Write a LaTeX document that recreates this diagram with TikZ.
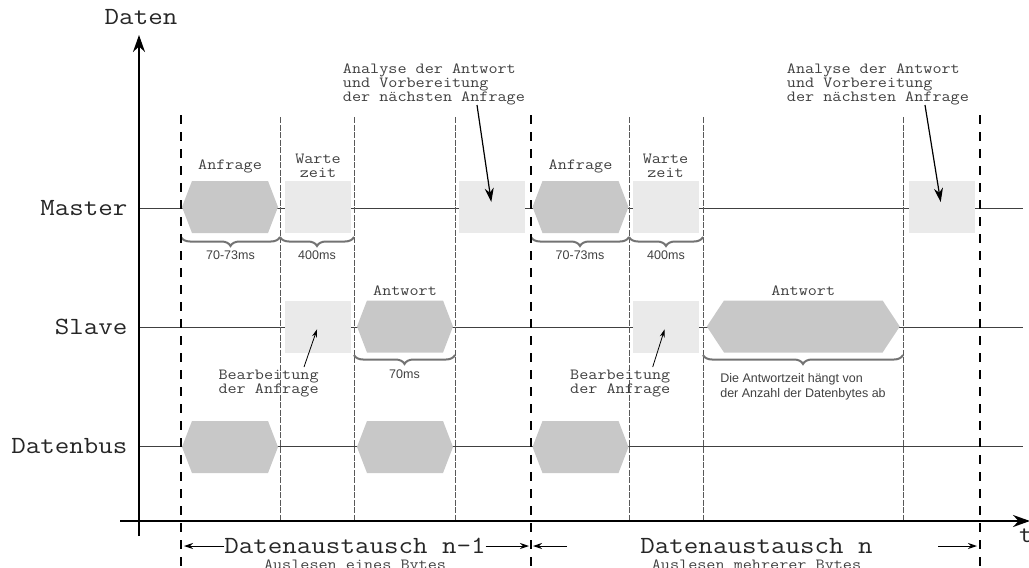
\documentclass[tikz,border=0pt]{standalone}
\usepackage{fontspec}
\setmonofont[FakeStretch=1.14]{Latin Modern Mono}
\newfontfamily\arial{Liberation Sans}
\usetikzlibrary{shapes.symbols,arrows.meta,positioning,decorations.pathreplacing}
\definecolor{sigdunkel}{RGB}{200,200,200}
\definecolor{sighell}{RGB}{234,234,234}

\begin{document}
\begin{tikzpicture}[x=1pt, y=-1pt,
    zackenform/.style={signal, signal to=east and west, signal pointer angle=138, fill=sigdunkel, inner sep=0pt, minimum width=96pt, minimum height=52pt},
    kasten/.style={rectangle, fill=sighell, inner sep=0pt, minimum width=66pt, minimum height=52pt},
    zeile/.style={font=\ttfamily\fontsize{24.7}{26}\selectfont, text=black!85, inner sep=0pt},
    notiz/.style={font=\ttfamily\fontsize{15.5}{13}\selectfont, text=black!75, inner sep=0pt, align=left},
    zeit/.style={font=\arial\fontsize{12.5}{15.4}\selectfont, text=black!75, inner sep=0pt, align=left},
    signallinie/.style={draw=black!75, line width=1pt},
    trenner/.style={draw=black!65, line width=0.8pt, dash pattern=on 6pt off 1.5pt},
    zyklus/.style={draw=black, line width=2.8pt, dash pattern=on 9pt off 8pt},
    klammer/.style={draw=black!55, line width=2pt, decorate, decoration={brace, mirror, amplitude=9pt}},
    achse/.style={draw=black, line width=2pt, -{Stealth[length=17pt, width=12pt]}},
    hinweis/.style={draw=black, line width=1.2pt, -{Stealth[length=14pt, width=9pt]}},
    zeiger/.style={draw=black, line width=0.8pt, -{Stealth[length=8pt, width=5pt]}},
    pfeil/.style={draw=black, line width=1pt, -{Stealth[length=9pt, width=6pt]}}
]
\useasboundingbox (0,0) rectangle (1029,568);

% Zeitmarken auf der t-Achse
\coordinate (t0) at (181,521);
\coordinate (t1) at (280,521);
\coordinate (t2) at (354,521);
\coordinate (t3) at (455,521);
\coordinate (t4) at (531,521);
\coordinate (t5) at (629,521);
\coordinate (t6) at (703,521);
\coordinate (t7) at (903,521);
\coordinate (t8) at (980,521);

% Zeilen
\node[zeile, anchor=east] (master) at (127.5,208) {Master};
\node[zeile, anchor=east] (slave) at (127.5,327) {Slave};
\node[zeile, anchor=east] (bus) at (127.5,446) {Datenbus};

\coordinate (mA) at (139,208);
\coordinate (mE) at (1023,208);
\coordinate (sA) at (139,327);
\coordinate (sE) at (1023,327);
\coordinate (bA) at (139,446);
\coordinate (bE) at (1023,446);
\draw[signallinie] (mA) -- (mE);
\draw[signallinie] (sA) -- (sE);
\draw[signallinie] (bA) -- (bE);

\draw[trenner] (t1 |- 0,117) -- (t1);
\draw[trenner] (t2 |- 0,117) -- (t2);
\draw[trenner] (t3 |- 0,117) -- (t3);
\draw[trenner] (t5 |- 0,117) -- (t5);
\draw[trenner] (t6 |- 0,117) -- (t6);
\draw[trenner] (t7 |- 0,117) -- (t7);

% Master
\node[zackenform] (anf1) at (230,207) {};
\node[kasten] (wart1) at (318,207) {};
\node[kasten] (ana1) at (492,207) {};
\node[zackenform] (anf2) at (580.5,207) {};
\node[kasten] (wart2) at (665.5,207) {};
\node[kasten] (ana2) at (941.5,207) {};
\node[notiz, above=8pt of anf1] (anf1txt) {Anfrage};
\node[notiz, above=3pt of wart1, align=center, font=\ttfamily\fontsize{15.5}{14}\selectfont] (wart1txt) {Warte\\zeit};
\node[notiz, above=8pt of anf2] (anf2txt) {Anfrage};
\node[notiz, above=3pt of wart2, align=center, font=\ttfamily\fontsize{15.5}{14}\selectfont] (wart2txt) {Warte\\zeit};

% Slave
\node[kasten] (bea1) at (318,326.5) {};
\node[zackenform] (ant1) at (405,326.5) {};
\node[kasten] (bea2) at (665.5,326.5) {};
\node[zackenform, minimum width=193pt, signal pointer angle=113] (ant2) at (803.3,326.5) {};
\node[notiz, above=5pt of ant1] (ant1txt) {Antwort};
\node[notiz, above=5pt of ant2] (ant2txt) {Antwort};

% Datenbus
\node[zackenform] (bus1) at (230,447) {};
\node[zackenform] (bus2) at (405,447) {};
\node[zackenform] (bus3) at (580.5,447) {};

% Zeiten
\draw[klammer] (t0 |- 0,237) -- node[zeit, below=12.5pt] (z1) {70-73ms} (t1 |- 0,237);
\draw[klammer] (t1 |- 0,237) -- node[zeit, below=12.5pt] (z2) {400ms} (t2 |- 0,237);
\draw[klammer] (t4 |- 0,237) -- node[zeit, below=12.5pt] (z3) {70-73ms} (t5 |- 0,237);
\draw[klammer] (t5 |- 0,237) -- node[zeit, below=12.5pt] (z4) {400ms} (t6 |- 0,237);
\draw[klammer] (t2 |- 0,355) -- node[zeit, below=13.5pt] (z5) {70ms} (t3 |- 0,355);
\draw[klammer] (t6 |- 0,355) -- node[zeit, below=17pt] (z6) {Die Antwortzeit hängt von\\der Anzahl der Datenbytes ab} (t7 |- 0,355);

% Hinweise
\node[notiz, anchor=north west] (bea1txt) at (218.3,369.5) {Bearbeitung\\der Anfrage};
\node[notiz, anchor=north west] (bea2txt) at (570,369.5) {Bearbeitung\\der Anfrage};
\coordinate (bea1fuss) at (304,367);
\coordinate (bea2fuss) at (652.7,367);
\draw[zeiger, shorten >=3pt] (bea1fuss) -- (bea1.center);
\draw[zeiger, shorten >=3pt] (bea2fuss) -- (bea2.center);

\node[notiz, anchor=north west] (ana1txt) at (342.7,63.5) {Analyse der Antwort\\und Vorbereitung\\der nächsten Anfrage};
\node[notiz, anchor=north west] (ana2txt) at (786.7,63.5) {Analyse der Antwort\\und Vorbereitung\\der nächsten Anfrage};
\coordinate (ana1fuss) at (477,105);
\coordinate (ana2fuss) at (925,105);
\draw[hinweis, shorten >=5pt] (ana1fuss) -- (ana1.center);
\draw[hinweis, shorten >=5pt] (ana2fuss) -- (ana2.center);

% Zyklusgrenzen
\draw[zyklus] (t0 |- 0,115) -- (t0 |- 0,570);
\draw[zyklus] (t4 |- 0,115) -- (t4 |- 0,570);
\draw[zyklus] (t8 |- 0,115) -- (t8 |- 0,570);

% Achsen
\coordinate (yU) at (139,536);
\coordinate (yO) at (139,35);
\draw[achse] (yU) -- (yO);
\node[zeile] (daten) at (141,17) {Daten};
\coordinate (xL) at (120,521);
\coordinate (xR) at (1030,521);
\draw[achse] (xL) -- (xR);
\node[zeile, anchor=base west] (tlabel) at (1019,542) {t};

% Datenaustausch
\node[zeile] (dat1) at (355,546) {Datenaustausch n-1};
\node[notiz, below=6pt of dat1] (aus1) {Auslesen eines Bytes};
\draw[pfeil, shorten >=3pt] (dat1.west) -- (t0 |- dat1.west);
\draw[pfeil, shorten >=2pt] (dat1.east) -- (t4 |- dat1.east);
\node[zeile] (dat2) at (756.5,546) {Datenaustausch n};
\node[notiz, below=6pt of dat2] (aus2) {Auslesen mehrerer Bytes};
\coordinate (dat2li) at (567,546);
\coordinate (dat2re) at (938,546);
\draw[pfeil, shorten >=2pt] (dat2li) -- (t4 |- dat2li);
\draw[pfeil, shorten >=3pt] (dat2re) -- (t8 |- dat2re);
\end{tikzpicture}
\end{document}
